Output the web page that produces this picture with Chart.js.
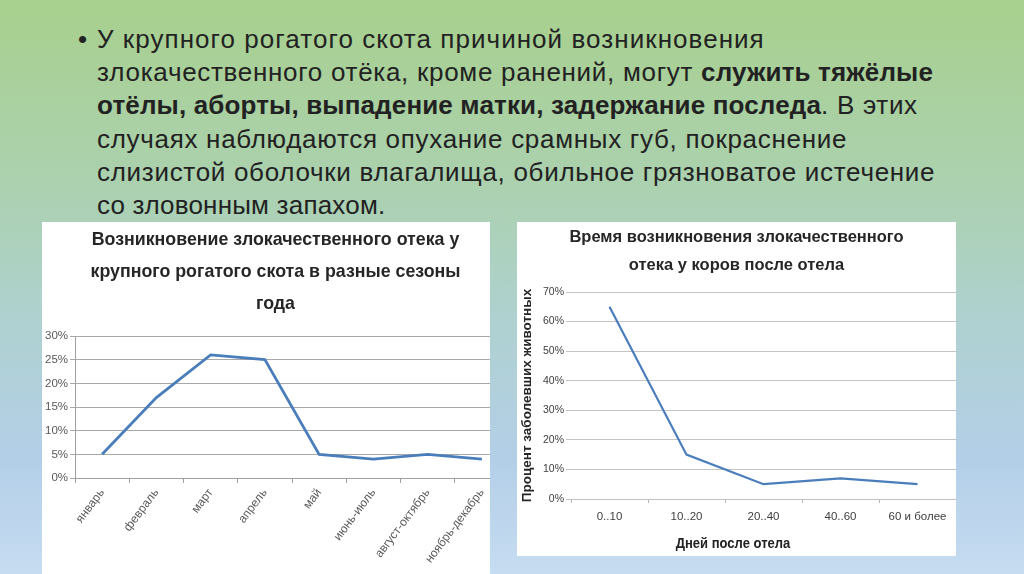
<!DOCTYPE html>
<html>
<head>
<meta charset="utf-8">
<script src="https://cdn.jsdelivr.net/npm/chart.js@4"></script>
<style>
  html, body { margin:0; padding:0; }
  body {
    width:1024px; height:574px; overflow:hidden; position:relative;
    background: linear-gradient(to bottom, #a8d08d 0%, #abd1b0 33%, #afd1cf 55%, #b3cfe8 80%, #c6dcf1 100%);
    font-family: "Liberation Sans", Arial, sans-serif;
  }
  #text {
    position:absolute; left:97px; top:23px; width:900px;
    font-size:26px; line-height:33.2px; color:#222;
    white-space:nowrap; letter-spacing:0.7px;
  }
  #text b { letter-spacing:0.15px; }
  #text .l1 { letter-spacing:1.05px; }
  #text .l6 { letter-spacing:0.2px; }
  #text .bullet { position:absolute; left:-19px; top:0; letter-spacing:0; }
  #p1 { position:absolute; left:42px; top:222px; width:448px; height:352px; background:#fff; overflow:hidden; }
  #p1 .cw { position:absolute; left:0; top:0; width:478px; height:352px; }
  #p2 { position:absolute; left:517px; top:222px; width:439px; height:334px; background:#fff; overflow:hidden; }
  #p2 .cw { position:absolute; left:0; top:0; width:439px; height:334px; }
  #xt2 { position:absolute; left:136px; top:312px; width:160px; text-align:center;
    font-family:"Liberation Sans", Arial, sans-serif; font-weight:bold;
    font-size:15.5px; line-height:18px; color:#222; white-space:nowrap;
    transform:scaleX(0.84); transform-origin:50% 50%; }
</style>
</head>
<body>
<div id="text"><span class="bullet">•</span><span class="l1">У крупного рогатого скота причиной возникновения</span><br>злокачественного отёка, кроме ранений, могут <b>служить тяжёлые</b><br><b>отёлы, аборты, выпадение матки, задержание последа</b>. В этих<br>случаях наблюдаются опухание срамных губ, покраснение<br>слизистой оболочки влагалища, обильное грязноватое истечение<br><span class="l6">со зловонным запахом.</span></div>

<div id="p1"><div class="cw"><canvas id="c1"></canvas></div></div>
<div id="p2"><div class="cw"><canvas id="c2"></canvas></div><div id="xt2">Дней после отела</div></div>

<script>
const seasons = ["январь","февраль","март","апрель","май","июнь-июль","август-октябрь","ноябрь-декабрь"];
const seasonValues = [5, 17, 26, 25, 5, 4, 5, 4];
const seasonTitle = ["Возникновение злокачественного отека у","крупного рогатого скота в разные сезоны","года"];

const dayRanges = ["0..10","10..20","20..40","40..60","60 и более"];
const dayValues = [65, 15, 5, 7, 5];
const dayTitle = ["Время возникновения злокачественного","отека у коров после отела"];
const dayYTitle = "Процент заболевших животных";

const FONT = "'Liberation Sans', Arial, sans-serif";
const NARROW = "'Liberation Sans Narrow', 'Liberation Sans', Arial, sans-serif";
const lineBlue = "#4a7ebb";

new Chart(document.getElementById('c1'), {
  type: 'line',
  data: { labels: seasons, datasets: [{ data: seasonValues, borderColor: lineBlue, borderWidth: 2.8, pointRadius: 0, tension: 0, fill: false }] },
  options: {
    responsive: true, maintainAspectRatio: false, animation: false,
    layout: { padding: { left: 0, right: 11, top: 0, bottom: 0 } },
    plugins: {
      legend: { display: false }, tooltip: { enabled: false },
      title: { display: true, text: seasonTitle, color: '#262626',
        font: { family: FONT, size: 17.8, weight: 'bold', lineHeight: 32/17.8 },
        padding: { top: 2, bottom: 16 } }
    },
    scales: {
      x: {
        offset: true,
        grid: { offset: true, drawOnChartArea: false, drawTicks: true, tickLength: 5, color: '#a0a0a0' },
        border: { display: true, color: '#a0a0a0' },
        ticks: { color: '#595959', font: { family: NARROW, size: 12 }, minRotation: 53, maxRotation: 53, padding: 3, autoSkip: false },
        afterFit: s => { s.height = 96; }
      },
      y: {
        min: 0, max: 30,
        grid: { color: '#a8a8a8', tickLength: 5, drawTicks: true },
        border: { display: true, color: '#a0a0a0' },
        ticks: { stepSize: 5, color: '#595959', padding: 2, font: { family: NARROW, size: 11.5 }, callback: v => v + '%' },
        afterFit: s => { s.width = 33; }
      }
    }
  }
});

new Chart(document.getElementById('c2'), {
  type: 'line',
  data: { labels: dayRanges, datasets: [{ data: dayValues, borderColor: lineBlue, borderWidth: 2.2, pointRadius: 0, tension: 0, fill: false }] },
  options: {
    responsive: true, maintainAspectRatio: false, animation: false,
    layout: { padding: { left: 0, right: 0, top: 0, bottom: 0 } },
    plugins: {
      legend: { display: false }, tooltip: { enabled: false },
      title: { display: true, text: dayTitle, color: '#262626',
        font: { family: FONT, size: 16.5, weight: 'bold', lineHeight: 28/16.5 },
        padding: { top: 1, bottom: 13 } }
    },
    scales: {
      x: {
        offset: true,
        grid: { offset: true, drawOnChartArea: false, drawTicks: true, tickLength: 4, color: '#b8b8b8' },
        border: { display: true, color: '#c0c0c0' },
        ticks: { color: '#404040', font: { family: NARROW, size: 11.5 }, maxRotation: 0, padding: 7, autoSkip: false },
        afterFit: s => { s.height = 57; }
      },
      y: {
        min: 0, max: 70,
        grid: { color: '#c4c4c4', tickLength: 5, drawTicks: true },
        border: { display: false },
        title: { display: true, text: dayYTitle, color: '#262626', font: { family: FONT, size: 13.5, weight: 'bold' }, padding: { top: 2, bottom: 0 } },
        ticks: { stepSize: 10, color: '#404040', padding: 2, font: { family: NARROW, size: 10.5 }, callback: v => v + '%' },
        afterFit: s => { s.width = 54; }
      }
    }
  }
});
</script>
</body>
</html>
